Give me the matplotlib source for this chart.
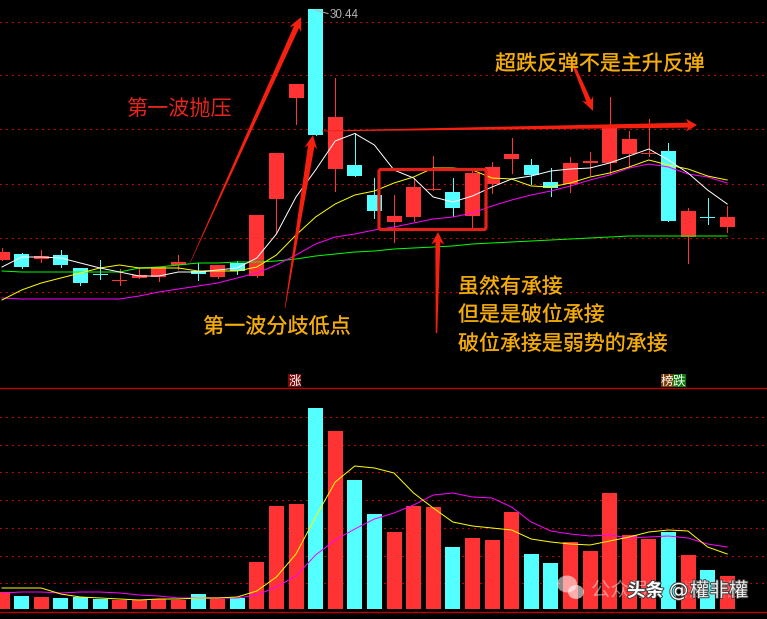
#!/usr/bin/python3
import matplotlib
matplotlib.use('Agg')
import matplotlib.pyplot as plt
from matplotlib.patches import Polygon, FancyBboxPatch, Ellipse, Rectangle
import matplotlib.patheffects as pe
import numpy as np

plt.rcParams['font.family'] = ['Noto Sans CJK SC', 'DejaVu Sans']

W, H = 767, 619

## candles (chart units grow downwards, same as the screen)
is_up = [1, 0, 1, 0, 0, 0, 1, 1, 1, 1, 0, 1, 0, 1, 1, 1, 0, 1, 0, 0,
         1, 1, 1, 0, 1, 1, 1, 0, 0, 1, 1, 1, 1, 1, 0, 1, 0, 1]
body_top = [252, 254, 256, 255, 268, 274, 280, 275, 267, 262, 271, 265, 263, 215, 153, 84, 9, 117, 165, 195,
            216, 187, 188.5, 192, 173, 167, 154, 165, 182, 163, 161, 128, 139, 152.5, 151, 211, 216.5, 217]
body_bot = [260, 267, 258.5, 265, 283, 275, 281, 277.7, 277, 265, 274, 277, 271, 276, 199, 98, 135, 169, 176, 211,
            222, 217, 189.5, 208, 216, 184, 159, 175, 188, 184, 163, 163, 154, 153.5, 221, 237, 217.5, 227]
wick_high = [248, 253, 250, 250, 268, 260, 269, 268, 267, 255, 263, 265, 261, 215, 153, 84, 9, 78, 133, 178,
             195, 178, 156, 178, 170, 162, 138, 159, 168, 157, 152, 97, 131, 119, 143, 208, 198, 206]
wick_low = [260, 268, 262, 267, 285, 279, 285, 278, 281, 269, 280, 278, 274, 277, 233, 124, 135, 191, 176, 218,
            242, 221, 189.5, 216, 229, 193, 173, 184, 196, 192, 175, 174, 167, 156, 221, 263, 224, 232]

ma_white = [267, 257, 257, 258, 263, 268, 272, 276, 276, 272, 272, 270, 268, 258, 234, 197, 170, 141, 133.5, 145,
            170, 178, 197, 202, 196, 187, 179, 176, 171, 169, 168, 163, 156, 149, 160, 173, 190, 204]
ma_yellow = [300, 290, 283, 278, 273, 268, 265, 268, 268, 268, 271, 271, 271, 267, 255, 235, 217, 204, 195, 191,
             183, 177, 168, 168, 170, 178, 179, 186, 187, 183, 177, 173, 167, 160, 165, 169, 176, 180]
ma_magenta = [298, 299, 299, 299, 299, 299, 299, 296, 292, 289, 286, 283, 278, 273, 265, 255, 244, 237, 234, 230,
              227, 223, 219, 217, 213, 206, 200, 195, 191, 186, 180, 175, 168, 164, 167, 174, 177, 183]
ma_green = [271, 272, 272, 272, 272, 272, 272, 268, 267, 265, 263, 263, 262, 262, 261, 259, 256, 254, 252, 251,
            249, 248, 247, 246, 244, 243, 242, 241, 240, 239, 238, 237, 236, 236, 236, 236, 236, 236]

## volume panel
volume = [17, 13, 12, 11, 12, 10, 9, 9, 10, 9, 15, 10, 11, 47, 103, 105, 201, 178, 129, 95,
          77, 103, 102, 62, 71, 69, 97, 55, 46, 67, 58, 116, 74, 70, 77, 54, 39, 33]
vol_yellow = [21, 21, 21, 15, 12, 11, 10, 9, 10, 10, 11, 11, 12, 18, 32, 55, 92, 127, 143, 141,
              136, 116, 101, 87, 83, 81, 79, 70, 67, 65, 64, 68, 72, 77, 79, 78, 62, 55]
vol_magenta = [16, 17, 17, 16, 17, 17, 16, 14, 13, 11, 11, 11, 11, 14, 22, 33, 54, 69, 80, 90,
               96, 104, 114, 116, 112, 111, 102, 87, 78, 75, 73, 74, 71, 72, 73, 71, 65, 62]

price_grid = [21.7, 75.3, 129.3, 184.3, 238.3, 292.3]
vol_grid = [28.7, 56.7, 83.7, 111.7, 139.7, 167.7, 194.7]

RED = '#ff3333'
CYAN = '#54ffff'
GRID = '#c00000'
ORANGE = '#f5ae0a'
ARROW = '#f5200f'
DOTS = (0, (1.4, 4.2))
THIN = 0.5
MA_W = 0.72

fig = plt.figure(figsize=(W / 100, H / 100), dpi=100, facecolor='black')

## x scale: 19.6 pixels per candle, first candle at pixel 2
step = 19.6
xlim = (-2 / step, (W - 2) / step)
xs = np.arange(len(is_up))
colors = [RED if u else CYAN for u in is_up]


def panel(top, bottom):
    ax = fig.add_axes([0, 1 - bottom / H, 1, (bottom - top) / H], facecolor='black')
    ax.set_xlim(*xlim)
    ax.axis('off')
    return ax


## price panel
ax = panel(0, 385)
ax.set_ylim(385, 0)
for y in price_grid:
    ax.axhline(y, color=GRID, lw=0.72, ls=DOTS, antialiased=False, zorder=1)
ax.vlines(xs, wick_high, wick_low, colors=colors, lw=THIN, antialiased=False, zorder=3)
ax.bar(xs, np.array(body_bot) - np.array(body_top), bottom=body_top, width=15 / step,
       color=colors, linewidth=0, zorder=4)
ax.plot(xs, ma_green, color='#00ff00', lw=MA_W, zorder=5)
ax.plot(xs, ma_magenta, color='#ff00ff', lw=MA_W, zorder=5)
ax.plot(xs, ma_yellow, color='#ffff00', lw=MA_W, zorder=5)
ax.plot(xs, ma_white, color='white', lw=MA_W, zorder=5)

## volume panel
ax2 = panel(388, 612)
ax2.set_ylim(-3, 221)
for y in vol_grid:
    ax2.axhline(221 - y, color=GRID, lw=0.72, ls=DOTS, antialiased=False, zorder=1)
ax2.bar(xs, volume, width=15 / step, color=colors, linewidth=0, zorder=2)
ax2.plot(xs, vol_magenta, color='#ff00ff', lw=MA_W, zorder=3)
ax2.plot(xs, vol_yellow, color='#ffff00', lw=MA_W, zorder=3)

## overlay in screen pixels for the hand drawn notes
note = fig.add_axes([0, 0, 1, 1], facecolor='none')
note.set_xlim(0, W)
note.set_ylim(H, 0)
note.axis('off')
note.axhline(388.3, color='#c00000', lw=1.0)
note.axhline(612.3, color='#c00000', lw=1.0)


def taper_arrow(x0, y0, x1, y1, tail_w, shaft_w, head_w, head_l):
    d = np.array([x1 - x0, y1 - y0], dtype=float)
    d /= np.hypot(*d)
    n = np.array([-d[1], d[0]])
    a, b = np.array([x0, y0]), np.array([x1, y1])
    neck = b - d * head_l
    back = b - d * head_l * 1.25
    pts = [a + n * tail_w / 2, neck + n * shaft_w / 2, back + n * head_w / 2, b,
           back - n * head_w / 2, neck - n * shaft_w / 2, a - n * tail_w / 2]
    note.add_patch(Polygon(pts, closed=True, fc=ARROW, ec='none', zorder=6))


taper_arrow(190, 263, 301, 17, 0.4, 5.5, 13, 11)
taper_arrow(285, 308, 313, 135, 0.6, 6.5, 13, 11)
taper_arrow(322, 131, 697, 125, 0.8, 5, 13, 9)
taper_arrow(573, 64, 593, 111, 2.5, 5, 12, 11)
taper_arrow(436.5, 333, 438, 232, 1.5, 5, 13, 10)

note.add_patch(FancyBboxPatch((379, 169.5), 107, 60, boxstyle='round,pad=0,rounding_size=2',
                              fc='none', ec='#e4201a', lw=2.3, zorder=6))

shadow = [pe.withStroke(linewidth=0.3, foreground='#8a5a00')]
note.text(126, 110, '第一波抛压', color='#e8251c', fontsize=15.2, va='center', ha='left', zorder=7)
note.text(203, 327, '第一波分歧低点', color=ORANGE, fontsize=15.2, va='center', ha='left', zorder=7,
          path_effects=shadow)
note.text(495, 64, '超跌反弹不是主升反弹', color=ORANGE, fontsize=15.1, va='center', ha='left', zorder=7,
          path_effects=shadow)
note.text(458, 287, '虽然有承接', color=ORANGE, fontsize=15.1, va='center', ha='left', zorder=7,
          path_effects=shadow)
note.text(458, 315, '但是是破位承接', color=ORANGE, fontsize=15.1, va='center', ha='left', zorder=7,
          path_effects=shadow)
note.text(458, 344, '破位承接是弱势的承接', color=ORANGE, fontsize=15.1, va='center', ha='left', zorder=7,
          path_effects=shadow)

## high price label
note.text(330, 15.5, '30.44', color='#b4b4b4', fontsize=8.4, family='Liberation Sans', va='center', zorder=7)
note.plot([316, 328], [10.5, 13.5], color='#b4b4b4', lw=0.7, zorder=7)

## little badges above the volume panel
for x0, x1, fc, txt in [(288, 301, '#7a0a0a', '涨'), (661, 672.5, '#7a3c05', '榜'), (672.5, 686, '#0a780a', '跌')]:
    note.add_patch(Rectangle((x0, 374), x1 - x0, 13, fc=fc, ec='none', zorder=5))
    note.text((x0 + x1) / 2, 381, txt, color='white', fontsize=9, ha='center', va='center', zorder=6)

## watermark
note.add_patch(Ellipse((567, 584), 20, 17, fc='white', alpha=0.55, ec='none', zorder=8))
note.add_patch(Ellipse((576, 592), 16, 14, fc='white', alpha=0.6, ec='none', zorder=8))
note.text(591, 590, '公众号', color='white', alpha=0.45, fontsize=14, va='center', zorder=8)
note.text(681, 590, '權非權', color='#ffb0b0', alpha=0.4, fontsize=14, va='center', zorder=8)
mark = [pe.withStroke(linewidth=1.4, foreground='#404040')]
note.text(627, 591, '头条', color='white', fontsize=13.3, weight='bold', va='center', zorder=9, path_effects=mark)
note.text(669, 591, '@', color='white', fontsize=14, va='center', family='DejaVu Sans', zorder=9, path_effects=mark)
note.text(690, 591, '權非權', color='#eeeeee', fontsize=14, va='center', zorder=9, path_effects=mark)

fig.savefig('out.png', dpi=100, facecolor='black')
